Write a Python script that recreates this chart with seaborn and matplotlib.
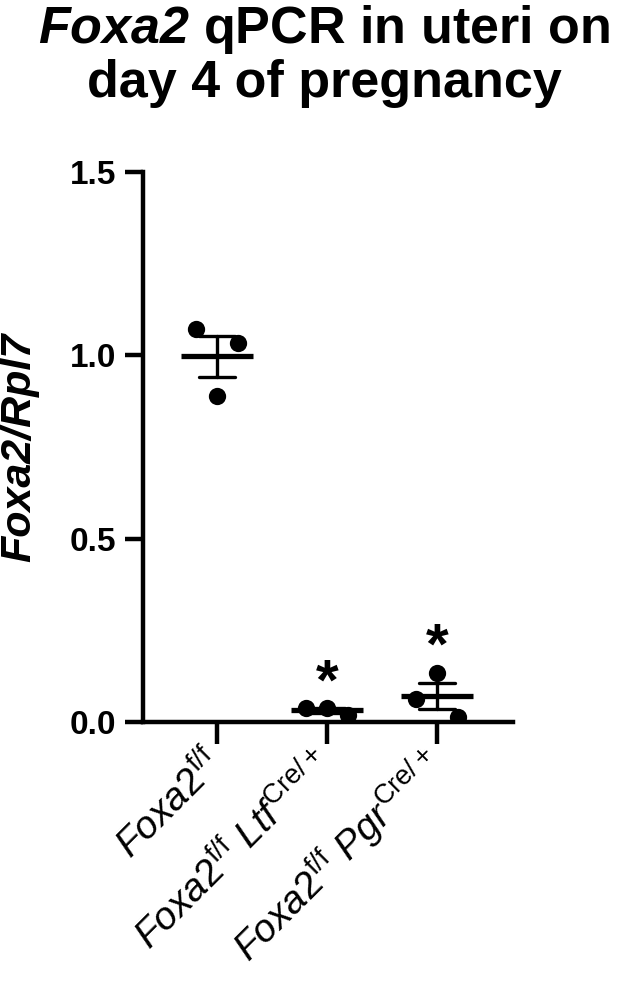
import numpy as np
import pandas as pd
import matplotlib
matplotlib.use("Agg")
import matplotlib.pyplot as plt
import seaborn as sns

# values (left, centre, right point of each group)
groups = ["Foxa2 f/f", "Foxa2 f/f Ltf Cre/+", "Foxa2 f/f Pgr Cre/+"]
ctrl_vals = [1.071, 0.888, 1.035]
ltf_vals = [0.038, 0.038, 0.019]
pgr_vals = [0.063, 0.134, 0.014]
tick_labels = [
    r"$\mathit{Foxa2}^{\mathrm{f/f}}$",
    r"$\mathit{Foxa2}^{\mathrm{f/f}}\ \mathit{Ltf}^{\mathrm{Cre/+}}$",
    r"$\mathit{Foxa2}^{\mathrm{f/f}}\ \mathit{Pgr}^{\mathrm{Cre/+}}$",
]
signif = ["", "*", "*"]

sns.set_style("ticks")
plt.rcParams["font.family"] = ["Liberation Sans", "DejaVu Sans"]
plt.rcParams["mathtext.fontset"] = "custom"
plt.rcParams["mathtext.rm"] = "Liberation Sans"
plt.rcParams["mathtext.it"] = "Liberation Sans:italic"
plt.rcParams["mathtext.bf"] = "Liberation Sans:bold"
plt.rcParams["mathtext.bfit"] = "Liberation Sans:italic:bold"
for k in ["text.color", "axes.labelcolor", "xtick.color", "ytick.color", "axes.edgecolor"]:
    plt.rcParams[k] = "black"

df = pd.DataFrame({
    "group": np.repeat(groups, 3),
    "value": ctrl_vals + ltf_vals + pgr_vals,
    "rep": [0, 1, 2] * 3,
})
# spread replicates sideways within each group
step = 0.19
df["xpos"] = df["group"].map({g: i for i, g in enumerate(groups)}) + (df["rep"] - 1) * step

fig = plt.figure(figsize=(6.17, 9.81), dpi=100)
ax = fig.add_axes([143 / 617, (981 - 722) / 981, (513 - 143) / 617, 550 / 981])

sns.pointplot(data=df, x="group", y="value", order=groups, errorbar="se",
              markers="_", linestyle="none", color="black", capsize=0.33,
              markersize=52, markeredgewidth=3.8,
              err_kws={"linewidth": 2.4}, ax=ax)
sns.scatterplot(data=df, x="xpos", y="value", color="black", s=155,
                edgecolor="black", linewidth=0, zorder=5, ax=ax)

# significance stars above each group
for i, g in enumerate(groups):
    if signif[i]:
        top = df.loc[df["group"] == g, "value"].max()
        ax.text(i, top + 0.065, signif[i], ha="center", va="center",
                fontsize=42, fontweight="bold")

ax.set_xlim(-0.673, 2.69)
ax.set_ylim(0, 1.5)
ax.set_yticks([0, 0.5, 1.0, 1.5])
ax.set_yticklabels(["0.0", "0.5", "1.0", "1.5"], fontsize=24, fontweight="bold")
ax.set_xticks([0, 1, 2])
ax.set_xticklabels(tick_labels, rotation=45, ha="right", va="center",
                   rotation_mode="anchor", fontsize=28)
ax.set_xlabel("")
ax.set_ylabel("Foxa2/Rpl7", fontsize=31, fontweight="bold", fontstyle="italic",
              labelpad=22)
sns.despine(ax=ax)
for side in ["left", "bottom"]:
    ax.spines[side].set_linewidth(3.2)
ax.tick_params(axis="y", length=13, width=3.2, pad=6)
ax.tick_params(axis="x", length=16, width=3.2, pad=10)

fig.text(324 / 617, 1 - 3 / 981,
         r"$\mathbfit{Foxa2}$ qPCR in uteri on" + "\n" + "day 4 of pregnancy",
         ha="center", va="top", fontsize=37.5, fontweight="bold", linespacing=1.07)

fig.savefig("out.png", dpi=100)
